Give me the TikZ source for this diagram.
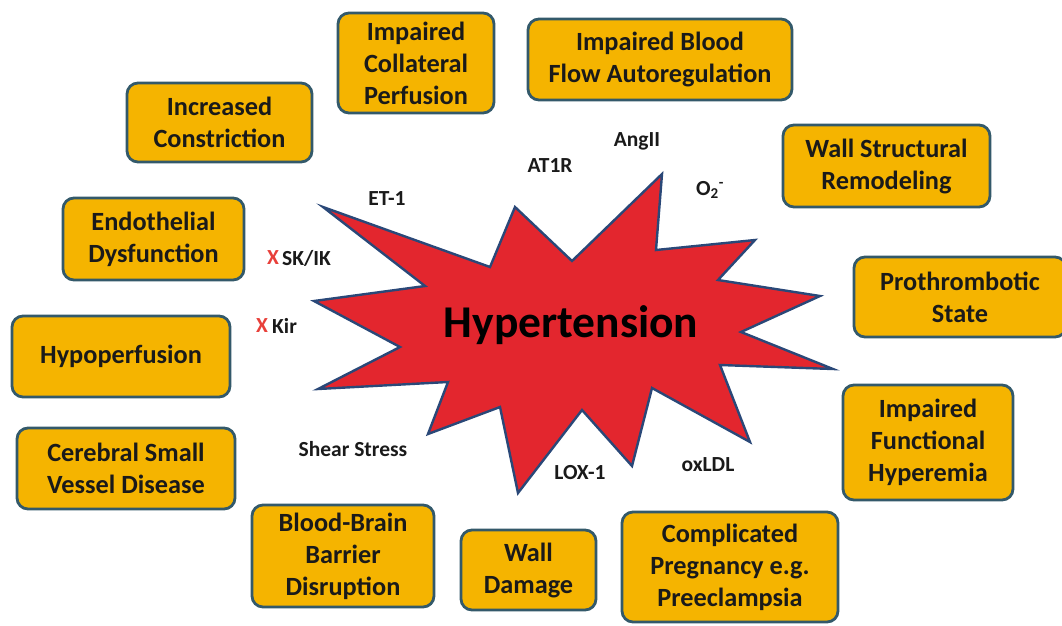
\documentclass[tikz,border=0pt]{standalone}
\usepackage{fontspec}
\setmainfont{Carlito}
\definecolor{boxfill}{HTML}{F5B400}
\definecolor{boxline}{HTML}{33596A}
\definecolor{starfill}{HTML}{E3262E}
\definecolor{starline}{HTML}{2A4878}
\definecolor{xred}{HTML}{E8403A}
\definecolor{txt}{HTML}{1A1A1A}
\begin{document}
\begin{tikzpicture}[x=1pt,y=-1pt,
  box/.style={draw=boxline, fill=boxfill, line width=2.8pt, rounded corners=11pt,
    align=center, inner sep=0pt, text=txt, font=\bfseries\fontsize{26.3}{32}\selectfont},
  lbl/.style={inner sep=0pt, text=txt, font=\bfseries\fontsize{21.5}{24}\selectfont},
  starshape/.style={draw=starline, fill=starfill, line width=2.4pt, line join=miter}]
\useasboundingbox (0,0) rectangle (1062,625);
% star
\draw[starshape] (323,207) -- (490,267) -- (515,207) -- (572,261) -- (662,174) -- (656,250)
  -- (755,240) -- (718,280) -- (820,296) -- (741,332) -- (833,369) -- (720,365)
  -- (750,442) -- (652,388) -- (632,466) -- (582,410) -- (518,493) -- (500,407)
  -- (428,434) -- (448,382) -- (318,389) -- (400,347) -- (314,301) -- (425,286) -- cycle;
\node[inner sep=0pt, text=black, font=\bfseries\fontsize{45.5}{50}\selectfont] (hyp) at (571,325) {Hypertension};
% boxes
\node[box, minimum width=156pt, minimum height=100pt] (icp) at (416,63) {Impaired\\Collateral\\Perfusion};
\node[box, minimum width=264pt, minimum height=81pt] (ibfa) at (660,59.5) {Impaired Blood\\Flow Autoregulation};
\node[box, minimum width=185pt, minimum height=79pt] (ic) at (219.5,122.5) {Increased\\Constriction};
\node[box, minimum width=207pt, minimum height=82pt] (wsr) at (886.5,166) {Wall Structural\\Remodeling};
\node[box, minimum width=181pt, minimum height=82pt] (ed) at (153.5,239) {Endothelial\\Dysfunction};
\node[box, minimum width=212pt, minimum height=80pt] (ps) at (960,297) {Prothrombotic\\State};
\node[box, minimum width=218pt, minimum height=81pt] (hypo) at (121,356.5) {Hypoperfusion};
\node[box, minimum width=170pt, minimum height=115pt] (ifh) at (928,442.5) {Impaired\\Functional\\Hyperemia};
\node[box, minimum width=218pt, minimum height=81pt] (csvd) at (126,468.5) {Cerebral Small\\Vessel Disease};
\node[box, minimum width=182pt, minimum height=102pt] (bbb) at (343,556) {Blood-Brain\\Barrier\\Disruption};
\node[box, minimum width=135pt, minimum height=80pt] (wd) at (528.5,570) {Wall\\Damage};
\node[box, minimum width=216pt, minimum height=110pt] (cp) at (730,567) {Complicated\\Pregnancy e.g.\\Preeclampsia};
% labels
\node[lbl] (angii) at (637,141) {AngII};
\node[lbl] (at1r) at (550,166) {AT1R};
\node[lbl] (et1) at (387,199) {ET-1};
\node[lbl] (o2) at (710,190) {O\textsubscript{2}\textsuperscript{-}};
\node[lbl, text=xred] (x1) at (273,258) {X};
\node[lbl, anchor=west] (skik) at (282,258) {SK/IK};
\node[lbl, text=xred] (x2) at (262,326) {X};
\node[lbl, anchor=west] (kir) at (272,326) {Kir};
\node[lbl] (shear) at (353,449) {Shear Stress};
\node[lbl] (lox) at (580,473) {LOX-1};
\node[lbl] (oxldl) at (708,465) {oxLDL};
\end{tikzpicture}
\end{document}
